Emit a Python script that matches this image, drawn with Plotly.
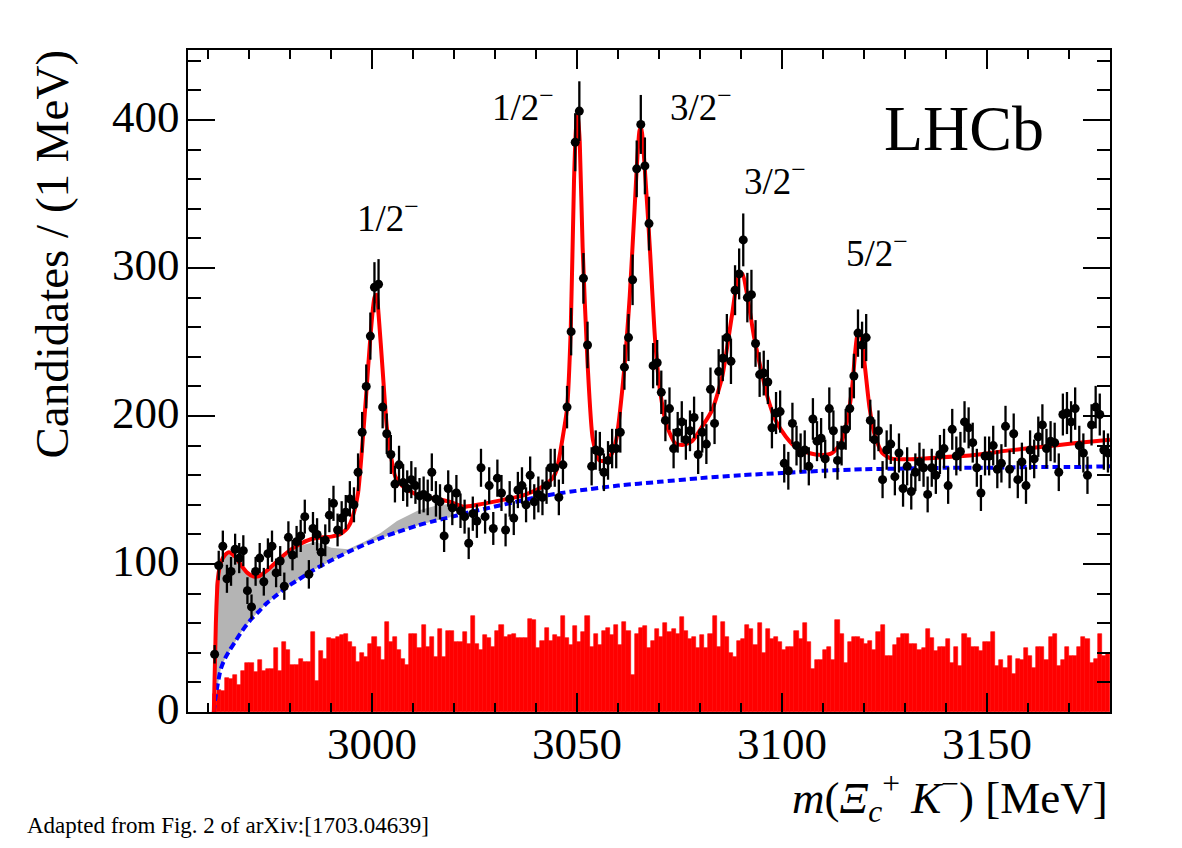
import numpy as np
import plotly.graph_objects as go

# ---------------- data ----------------
bin_start = 2961.5  # first bin centre (1 MeV bins)
counts = [
    39, 99, 112, 90, 95, 110, 104, 109, 82, 71,
    95, 104, 88, 107, 112, 94, 102, 85, 118, 106,
    115, 119, 132, 93, 124, 120, 108, 116, 133, 141,
    123, 131, 135, 144, 140, 162, 189, 220, 254, 287,
    289, 206, 188, 174, 154, 167, 155, 151, 157, 153,
    146, 147, 145, 162, 144, 142, 119, 151, 138, 148,
    136, 132, 114, 134, 129, 165, 132, 153, 124, 158,
    148, 123, 144, 131, 150, 153, 140, 160, 142, 147,
    145, 153, 165, 165, 145, 167, 206, 257, 385, 406,
    293, 248, 166, 177, 176, 162, 170, 178, 178, 189,
    233, 253, 292, 367, 397, 369, 330, 234, 236, 216,
    197, 205, 178, 189, 196, 184, 190, 199, 174, 189,
    181, 218, 195, 230, 239, 253, 237, 285, 296, 319,
    280, 282, 249, 228, 229, 223, 192, 202, 203, 168,
    163, 195, 180, 175, 177, 166, 198, 183, 185, 171,
    205, 190, 170, 180, 191, 205, 227, 256, 248, 253,
    197, 184, 190, 157, 177, 181, 159, 175, 151, 166,
    149, 162, 169, 165, 147, 165, 160, 174, 178, 153,
    191, 173, 176, 196, 192, 182, 165, 148, 173, 173,
    180, 164, 168, 193, 164, 188, 157, 169, 153, 177,
    171, 186, 194, 178, 183, 182, 162, 201, 202, 196,
    205, 180, 175, 160, 194, 206, 201, 177, 175,
]

sideband = [
    12, 15, 14, 23, 22, 25, 18, 28, 33, 33,
    27, 35, 28, 29, 29, 43, 28, 47, 42, 32,
    32, 36, 34, 34, 54, 21, 41, 36, 50, 49,
    51, 52, 53, 47, 44, 34, 40, 37, 46, 51,
    44, 35, 61,
    47, 51, 42, 36, 32, 53, 53, 43, 59, 44,
    51, 37, 56, 37, 55, 55, 47, 47, 54, 46,
    65, 46, 42, 52, 50, 44, 55, 59, 51, 52,
    53, 50, 50, 50, 63, 62, 43, 48, 57, 48,
    52, 51, 65, 50,
    45, 58, 47, 54, 65, 44, 53, 45, 55, 57,
    52, 59, 45, 61, 55, 25, 53, 57, 58, 43,
    48, 56, 51, 60, 54, 56, 53, 64, 55, 49,
    51, 43, 52, 43, 53, 65, 44, 61, 51, 40,
    37, 48, 49, 59, 56, 45, 60, 40, 56, 49,
    51, 47, 42, 44, 44, 55, 49, 60, 47, 29,
    35, 35, 42, 44, 35, 62, 53, 33, 47, 51,
    51, 49, 46, 48, 42, 54, 59, 38, 38, 45,
    50, 53, 53, 46, 46, 42, 43, 56, 50, 41,
    44, 44, 49, 33, 44, 31, 53, 50, 44, 44,
    41, 47, 47, 54, 31, 35, 30, 38, 26, 36,
    35, 43, 38, 30, 44, 44, 35, 51, 53, 31,
    35, 44, 38, 38, 44, 51, 49, 33, 36, 53,
    38, 40,
]

bkg_x = [2961.3, 2961.6, 2962.2, 2963, 2964, 2965, 2966.5, 2968, 2970.5, 2972.5,
         2974, 2976, 2978, 2980, 2982, 2986, 2990, 2994, 2998, 3002,
         3006, 3011, 3015, 3019.5, 3023, 3027, 3031, 3035, 3040, 3045,
         3050, 3060, 3070, 3080, 3090, 3100, 3110, 3120, 3130, 3140,
         3150, 3160, 3170, 3180]
bkg_y = [0, 8, 18, 29, 36, 41, 47.5, 54, 63, 68.5,
         73, 77.5, 82, 86, 89.5, 96.5, 102.5, 108, 113, 117.5,
         121.5, 126, 129, 132, 134.5, 137, 139.5, 142, 145, 147.5,
         149.5, 153, 155.5, 158, 160, 161.5, 163, 164, 164.5, 165,
         165, 165.5, 165.5, 166]

# upper edge of the grey component (on the first bkg_x points)
grey_top = [0, 85, 95, 101, 105, 107, 104, 99, 92, 92,
            95, 100, 105, 109, 112, 115, 111, 110, 115, 121,
            129, 136, 139, 141]

fit_x = [2961.3, 2961.8, 2962.3, 2963, 2964, 2965, 2966.5, 2968, 2969.5, 2971,
         2972.5, 2974, 2976, 2978, 2980, 2982, 2985, 2988, 2990, 2992,
         2993.5, 2994.5, 2995.5, 2996.5, 2997.5, 2998.5, 2999.5, 3000.5, 3001, 3001.5,
         3002.5, 3003.5, 3004.4, 3005.6, 3007.6, 3011, 3015, 3019, 3022.3, 3025.6,
         3031.3, 3037, 3040.7, 3041.8, 3044, 3045.1, 3046.7, 3047.5, 3048.4, 3049.2,
         3049.7, 3050.1, 3050.6, 3051.3, 3052.5, 3053.8, 3055.4, 3057, 3058.5, 3059.5,
         3061.2, 3062.8, 3064, 3065.2, 3065.6, 3066.5, 3067.7, 3069, 3070.3, 3071.9,
         3073.9, 3075.6, 3078, 3080.5, 3082.9, 3085.4, 3087.8, 3089.4, 3090.3, 3091.5,
         3093.1, 3094.7, 3096.4, 3098.4, 3100.9, 3103.3, 3106.5, 3109.8, 3112.2, 3114.3,
         3115.9, 3117.1, 3118.3, 3119, 3120, 3121.3, 3122.5, 3123.5, 3124.4, 3126.5,
         3130.5, 3138.7, 3146.8, 3154.9, 3163, 3171.2, 3180]
fit_y = [0, 60, 90, 101, 106, 108, 105, 99, 94, 91.5,
         92, 95, 100, 105, 109.5, 113, 116.7, 118, 118.5, 120,
         123, 127, 135, 148, 179, 215, 253, 280, 282, 269,
         231, 193, 175, 159, 152, 146.6, 144.4, 142, 138.7, 140,
         143, 146.6, 151, 153, 158, 165, 190, 205, 258, 359,
         395, 405, 385, 314, 236, 184, 170, 170, 175, 184,
         224, 281, 341, 393, 395, 366, 314, 251, 215, 193,
         181.5, 180.4, 183, 193, 204, 227, 269, 295, 296, 281,
         254, 233, 213, 197, 186, 179, 175, 173.6, 175, 181.6,
         197, 220, 254, 257, 238, 206, 188, 180, 175, 171.4,
         170.7, 172, 173.6, 176.6, 179, 181.6, 184]

x_tick_vals = [3000, 3050, 3100, 3150]
x_tick_text = ["3000", "3050", "3100", "3150"]
y_tick_vals = [0, 100, 200, 300, 400]
y_tick_text = ["0", "100", "200", "300", "400"]

state_labels = ["1/2", "1/2", "3/2", "3/2", "5/2"]

# ---------------- figure ----------------
centres = bin_start + np.arange(len(counts))
counts_arr = np.array(counts, dtype=float)
errs = np.sqrt(counts_arr)

fig = go.Figure()

fig.add_trace(go.Bar(
    x=centres, y=sideband, width=1.0,
    marker=dict(color="#ff0000", line=dict(width=0.6, color="#ff0000")),
    showlegend=False, hoverinfo="skip"))

ng = len(grey_top)
gx = list(bkg_x[:ng]) + list(bkg_x[:ng][::-1])
gy = list(grey_top) + list(bkg_y[:ng][::-1])
fig.add_trace(go.Scatter(
    x=gx, y=gy, fill="toself", fillcolor="#b4b4b4", mode="lines",
    line=dict(width=0), showlegend=False, hoverinfo="skip"))

fig.add_trace(go.Scatter(
    x=bkg_x, y=bkg_y, mode="lines",
    line=dict(color="#0000ff", width=4, dash="7px,4px", shape="spline", smoothing=0.8),
    showlegend=False))

fig.add_trace(go.Scatter(
    x=fit_x, y=fit_y, mode="lines",
    line=dict(color="#ff0000", width=4, shape="spline", smoothing=0.6),
    showlegend=False))

fig.add_trace(go.Scatter(
    x=centres, y=counts_arr, mode="markers",
    marker=dict(color="black", size=9),
    error_y=dict(type="data", array=errs, color="black", thickness=2.3, width=0),
    showlegend=False))

font_family = "Liberation Serif, Times New Roman, serif"

axis_common = dict(showline=True, linecolor="black", linewidth=2, mirror="ticks",
                   ticks="inside", tickcolor="black", tickwidth=2,
                   showgrid=False, zeroline=False, showticklabels=False)

fig.update_layout(
    width=1182, height=848,
    margin=dict(l=188, r=72, t=50, b=136),
    paper_bgcolor="white", plot_bgcolor="white",
    bargap=0, showlegend=False,
    xaxis=dict(range=[2955, 3180], tickvals=x_tick_vals, ticklen=19,
               minor=dict(dtick=10, tick0=2950, ticklen=9, ticks="inside",
                          tickcolor="black", tickwidth=2),
               **axis_common),
    yaxis=dict(range=[0, 447.3], tickvals=y_tick_vals, ticklen=27,
               minor=dict(dtick=20, tick0=0, ticklen=13, ticks="inside",
                          tickcolor="black", tickwidth=2),
               **axis_common),
)

def px_x(p):
    return (p - 188) / 922.0

def px_y(p):
    return (712 - p) / 662.0

anns = []
# tick labels as text placed beside the axes
for v, t in zip(x_tick_vals, x_tick_text):
    anns.append(dict(text=t, x=v, xref="x", y=px_y(744), yref="paper",
                     xanchor="center", yanchor="middle", font=dict(size=45)))
for v, t in zip(y_tick_vals, y_tick_text):
    anns.append(dict(text=t, x=px_x(182), xref="paper", y=v + 2, yref="y",
                     xanchor="right", yanchor="middle", font=dict(size=45)))
anns.append(dict(text="Candidates / (1 MeV)", textangle=-90, x=px_x(52), y=px_y(48),
                 xanchor="center", yanchor="top", font=dict(size=47)))
anns.append(dict(text="<i>m</i>(<i>Ξ</i><sub><i>c</i></sub><sup>+</sup> <i>K</i><sup>−</sup>) [MeV]",
                 x=1.0, y=px_y(797), xanchor="right", yanchor="middle", font=dict(size=45)))
anns.append(dict(text="LHCb", x=px_x(964), y=px_y(128), xanchor="center", yanchor="middle",
                 font=dict(size=64)))
lab_pos = [(355, 215), (490, 104), (668, 104), (742, 178), (844, 250)]
for lab, (lx, ly) in zip(state_labels, lab_pos):
    anns.append(dict(text=lab + "<sup>−</sup>", x=px_x(lx), y=px_y(ly),
                     xanchor="left", yanchor="middle", font=dict(size=37)))
anns.append(dict(text="Adapted from Fig. 2 of arXiv:[1703.04639]", x=px_x(25), y=px_y(825),
                 xanchor="left", yanchor="middle", font=dict(size=23)))
for a in anns:
    a.setdefault("xref", "paper")
    a.setdefault("yref", "paper")
    a["showarrow"] = False
    a["font"].update(family=font_family, color="black")
fig.update_layout(annotations=anns)

fig.write_html("out.html")
